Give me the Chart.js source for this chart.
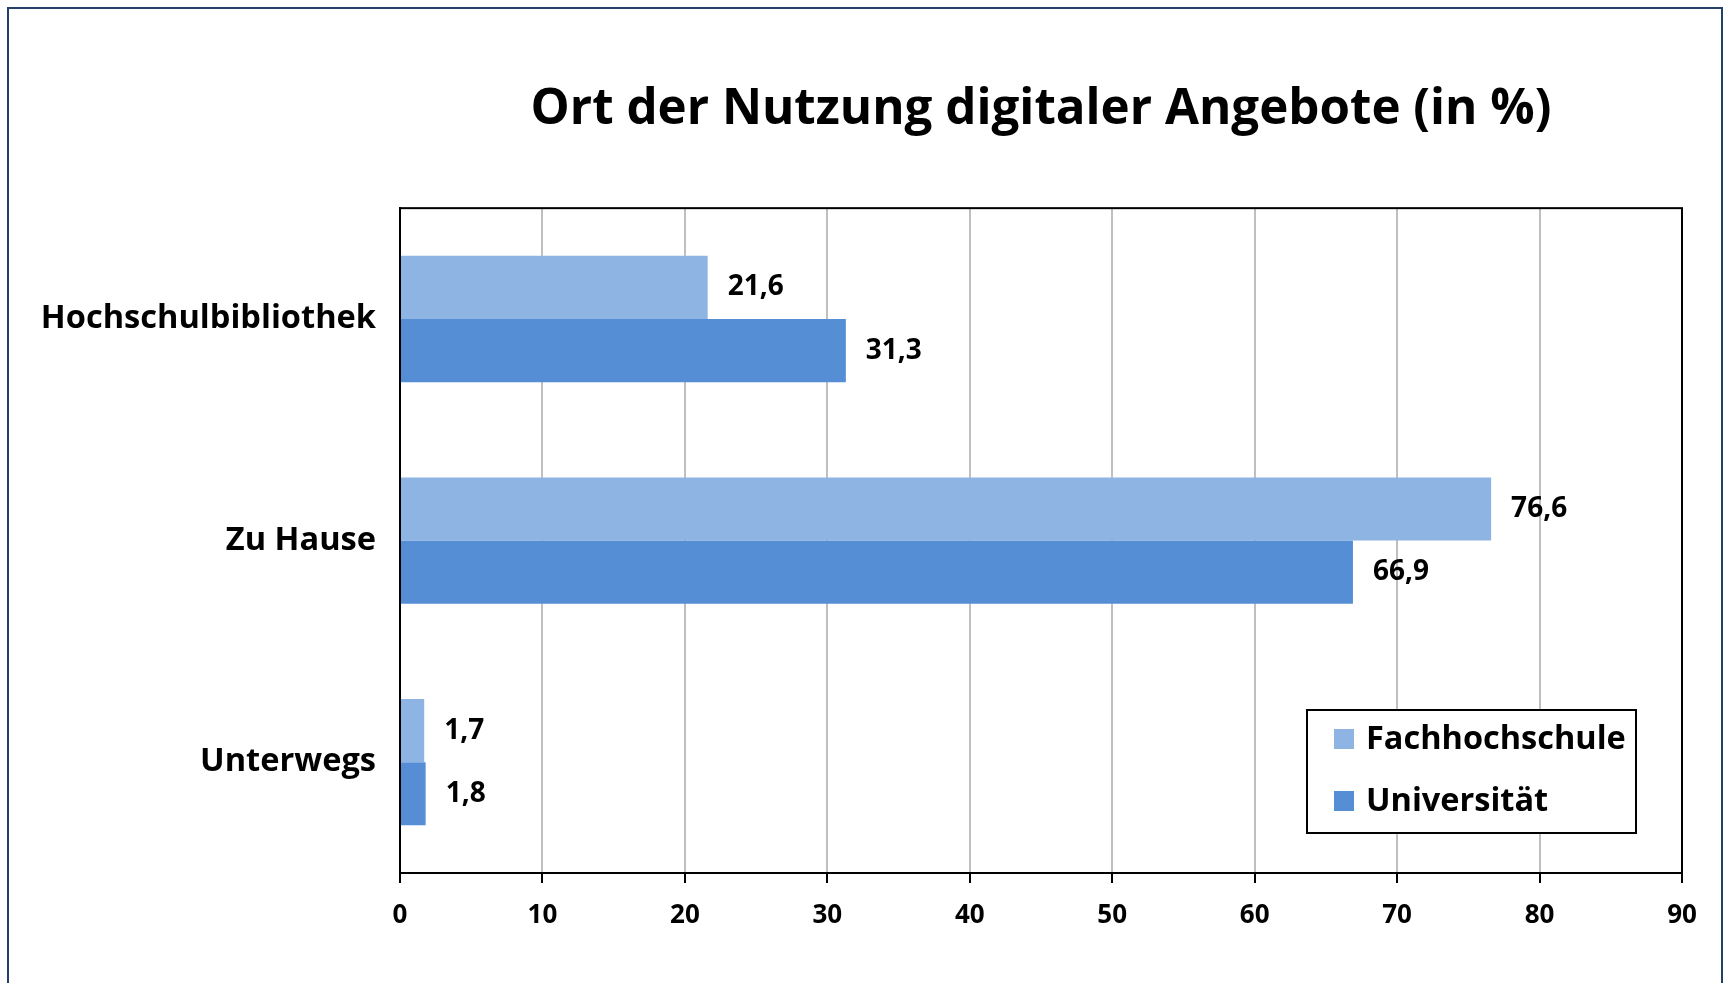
<!DOCTYPE html>
<html>
<head>
<meta charset="utf-8">
<script src="https://cdn.jsdelivr.net/npm/chart.js@4/dist/chart.umd.min.js"></script>
<style>
  html, body { margin: 0; padding: 0; background: #fff; overflow: hidden; }
  #wrap { position: relative; width: 1733px; height: 983px; }
  #frame {
    position: absolute; left: 7px; top: 7px; width: 1716px; height: 1000px;
    border: 2px solid #23406b; box-sizing: border-box;
  }
  canvas { position: absolute; left: 0; top: 0; }
</style>
</head>
<body>
<div id="wrap">
  <div id="frame"></div>
  <canvas id="chart" width="1733" height="983"></canvas>
</div>
<script>
// Chart data
const categories = ['Hochschulbibliothek', 'Zu Hause', 'Unterwegs'];
const fachhochschule = [21.6, 76.6, 1.7];
const universitaet = [31.3, 66.9, 1.8];
const xTicks = [0, 10, 20, 30, 40, 50, 60, 70, 80, 90];

const fontFamily = '"Open Sans", Lato, sans-serif';

// value labels next to each bar (German decimal comma)
const valueLabels = {
  id: 'valueLabels',
  afterDatasetsDraw(chart) {
    const ctx = chart.ctx;
    ctx.save();
    ctx.font = 'bold 28px ' + fontFamily;
    ctx.fillStyle = '#000';
    ctx.textBaseline = 'middle';
    ctx.textAlign = 'left';
    chart.data.datasets.forEach((ds, i) => {
      chart.getDatasetMeta(i).data.forEach((bar, j) => {
        ctx.fillText(String(ds.data[j]).replace('.', ','), bar.x + 20, bar.y);
      });
    });
    ctx.restore();
  }
};

// black box round the plot area
const plotBox = {
  id: 'plotBox',
  afterDraw(chart) {
    const a = chart.chartArea;
    const ctx = chart.ctx;
    ctx.save();
    ctx.strokeStyle = '#000';
    ctx.lineWidth = 2;
    ctx.strokeRect(a.left, a.top, a.right - a.left, a.bottom - a.top);
    ctx.restore();
  }
};

// legend drawn inside the plot, bottom right
const boxLegend = {
  id: 'boxLegend',
  afterDraw(chart) {
    const ctx = chart.ctx;
    const x = 1307, y = 710, w = 329, h = 123;
    ctx.save();
    ctx.fillStyle = '#fff';
    ctx.fillRect(x, y, w, h);
    ctx.strokeStyle = '#000';
    ctx.lineWidth = 2;
    ctx.strokeRect(x, y, w, h);
    ctx.font = 'bold 32.5px ' + fontFamily;
    ctx.textBaseline = 'middle';
    chart.data.datasets.forEach((ds, i) => {
      const cy = y + 29 + i * 62;
      ctx.fillStyle = ds.backgroundColor;
      ctx.fillRect(x + 27, cy - 10, 20, 20);
      ctx.fillStyle = '#000';
      ctx.fillText(ds.label, x + 59, cy + 1);
    });
    ctx.restore();
  }
};

new Chart(document.getElementById('chart'), {
  type: 'bar',
  data: {
    labels: categories,
    datasets: [
      { label: 'Fachhochschule', data: fachhochschule, backgroundColor: '#8eb4e3' },
      { label: 'Universität', data: universitaet, backgroundColor: '#558ed5' }
    ]
  },
  options: {
    indexAxis: 'y',
    responsive: false,
    animation: false,
    layout: { padding: { left: 0, right: 51, top: 0, bottom: 40 } },
    datasets: { bar: { categoryPercentage: 0.57, barPercentage: 1.0 } },
    scales: {
      x: {
        min: 0,
        max: 90,
        afterBuildTicks: (scale) => { scale.ticks = xTicks.map(v => ({ value: v })); },
        afterFit: (scale) => { scale.height = 70; },
        grid: { color: '#bfbfbf', lineWidth: 2, tickColor: '#000', tickLength: 10 },
        border: { color: '#000', width: 2 },
        ticks: { color: '#000', padding: 17, font: { family: fontFamily, size: 26, weight: 'bold' } }
      },
      y: {
        afterFit: (scale) => { scale.width = 400; },
        grid: { display: false, drawTicks: false },
        border: { color: '#000', width: 2 },
        ticks: { color: '#000', padding: 24, font: { family: fontFamily, size: 32.6, weight: 'bold' } }
      }
    },
    plugins: {
      legend: { display: false },
      tooltip: { enabled: false },
      title: {
        display: true,
        fullSize: false,
        text: 'Ort der Nutzung digitaler Angebote (in %)',
        color: '#000',
        font: { family: fontFamily, size: 49.3, weight: 'bold', lineHeight: 1.2 },
        padding: { top: 80, bottom: 69 }
      }
    }
  },
  plugins: [valueLabels, plotBox, boxLegend]
});
</script>
</body>
</html>
